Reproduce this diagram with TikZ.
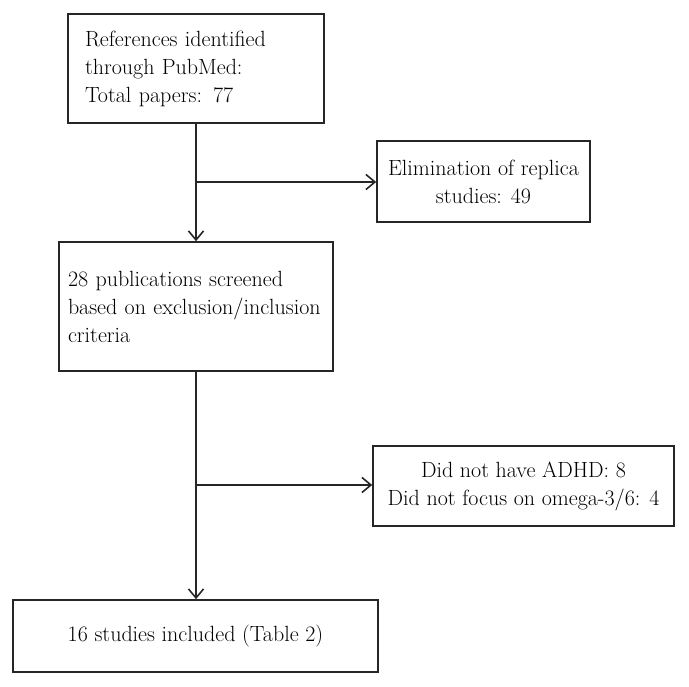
\documentclass[tikz,border=0pt]{standalone}
\usepackage{tikz}
\usetikzlibrary{
	               	arrows.meta,
	               	calc
					}

\tikzset{
	box/.style={draw=black!85, line width=1.6pt, inner xsep=0pt, inner ysep=0pt, font=\fontsize{22}{28}\selectfont},
	pfeil/.style={draw=black!85, line width=1.6pt, -{Straight Barb[length=9pt,width=15pt,line width=1.6pt]}}
}

\begin{document}
\begin{tikzpicture}[x=1pt,y=-1pt]
	\useasboundingbox (0,0) rectangle (689,687);
	% Kaesten
	\node[box, minimum width=256pt, minimum height=109pt, text width=222pt, align=left] (ref) at (196,68.5) {References identified\\ through PubMed:\\ Total papers: 77};
	\node[box, minimum width=213pt, minimum height=81pt, align=center] (repl) at (483.5,181.5) {Elimination of replica\\ studies: 49};
	\node[box, minimum width=274pt, minimum height=129pt, text width=256pt, align=left] (scr) at (196,306.5) {28 publications screened\\ based on exclusion/inclusion\\ criteria};
	\node[box, minimum width=301pt, minimum height=80pt, align=center] (excl) at (523.5,486) {Did not have ADHD: 8\\ Did not focus on omega-3/6: 4};
	\node[box, minimum width=365pt, minimum height=72pt, align=center] (incl) at (195.5,636) {16 studies included (Table 2)};

	% Pfeile
	\coordinate (ab1) at (196,182);
	\coordinate (ab2) at (196,485);
	\draw[pfeil] (ref) -- (scr);
	\draw[pfeil] (ab1) -- (ab1 -| repl.west);
	\draw[pfeil] (scr) -- (scr |- incl.north);
	\draw[pfeil] (ab2) -- (ab2 -| excl.west);
\end{tikzpicture}
\end{document}
